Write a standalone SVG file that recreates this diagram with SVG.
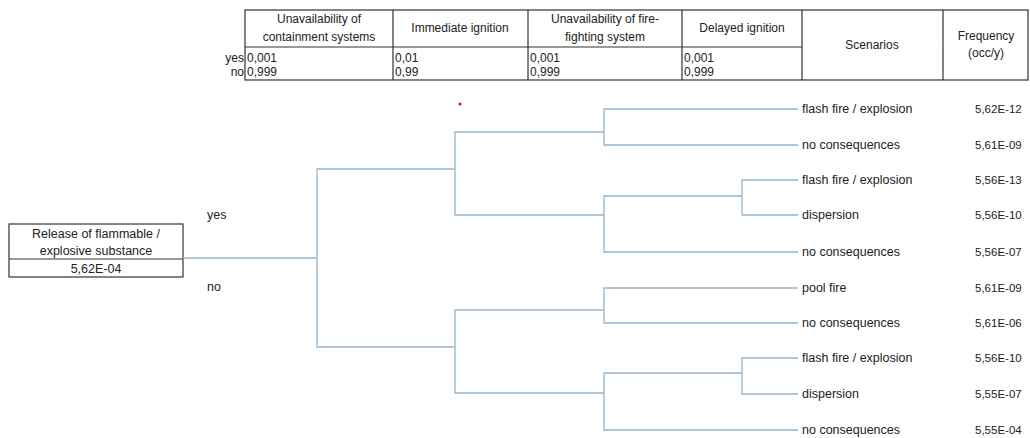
<svg xmlns="http://www.w3.org/2000/svg" width="1030" height="438" viewBox="0 0 1030 438">
<style>
text{font-family:"Liberation Sans",Arial,sans-serif;fill:#222;font-size:12px}
.c{text-anchor:middle}
.r{text-anchor:end}
.lab{font-size:12.5px}
.f{font-size:11.5px}
.grid{stroke:#333;stroke-width:1.2;fill:none}
.br{stroke:#92b4d2;stroke-width:1.3;fill:none}
</style>
<rect width="1030" height="438" fill="#fff"/>
<g id="table">
<rect class="grid" x="245" y="10" width="783" height="70"/>
<path class="grid" d="M245 47H802M393 10V80M528 10V80M682 10V80M802 10V80M943 10V80"/>
<text class="c" x="319" y="23">Unavailability of</text>
<text class="c" x="319" y="41">containment systems</text>
<text class="c" x="460" y="32">Immediate ignition</text>
<text class="c" x="605" y="23">Unavailability of fire-</text>
<text class="c" x="605" y="41">fighting system</text>
<text class="c" x="742" y="32">Delayed ignition</text>
<text class="c" x="872" y="49">Scenarios</text>
<text class="c" x="986" y="40">Frequency</text>
<text class="c" x="986" y="57">(occ/y)</text>
<text class="r" x="244" y="62">yes</text>
<text class="r" x="244" y="76">no</text>
<text x="247" y="62">0,001</text>
<text x="247" y="76">0,999</text>
<text x="395" y="62">0,01</text>
<text x="395" y="76">0,99</text>
<text x="530" y="62">0,001</text>
<text x="530" y="76">0,999</text>
<text x="684" y="62">0,001</text>
<text x="684" y="76">0,999</text>
</g>
<g id="initiating-event">
<rect class="grid" x="9" y="224" width="174" height="53"/>
<path class="grid" d="M9 259H183"/>
<text class="c lab" x="96" y="238">Release of flammable /</text>
<text class="c lab" x="96" y="255">explosive substance</text>
<text class="c lab" x="96" y="273">5,62E-04</text>
</g>
<g id="branch-labels">
<text class="lab" x="207" y="219">yes</text>
<text class="lab" x="207" y="291">no</text>
</g>
<g id="connectors">
<path class="br" d="M183 258H317"/>
<path class="br" d="M455 169H317V347H455"/>
<path class="br" d="M604 132H455V215H604"/>
<path class="br" d="M604 310H455V393H604"/>
<path class="br" d="M798 109H604V145H798"/>
<path class="br" d="M742 196H604V252H798"/>
<path class="br" d="M798 180H742V215H798"/>
<path class="br" d="M798 288H604V323H798"/>
<path class="br" d="M742 373H604V430H798"/>
<path class="br" d="M798 358H742V394H798"/>
</g>
<circle cx="460" cy="104" r="1.5" fill="#d01030"/>
<g id="outcome-1"><text class="lab" x="802" y="113">flash fire / explosion</text><text class="f" x="975" y="113">5,62E-12</text></g>
<g id="outcome-2"><text class="lab" x="802" y="149">no consequences</text><text class="f" x="975" y="149">5,61E-09</text></g>
<g id="outcome-3"><text class="lab" x="802" y="184">flash fire / explosion</text><text class="f" x="975" y="184">5,56E-13</text></g>
<g id="outcome-4"><text class="lab" x="802" y="219">dispersion</text><text class="f" x="975" y="219">5,56E-10</text></g>
<g id="outcome-5"><text class="lab" x="802" y="256">no consequences</text><text class="f" x="975" y="256">5,56E-07</text></g>
<g id="outcome-6"><text class="lab" x="802" y="292">pool fire</text><text class="f" x="975" y="292">5,61E-09</text></g>
<g id="outcome-7"><text class="lab" x="802" y="327">no consequences</text><text class="f" x="975" y="327">5,61E-06</text></g>
<g id="outcome-8"><text class="lab" x="802" y="362">flash fire / explosion</text><text class="f" x="975" y="362">5,56E-10</text></g>
<g id="outcome-9"><text class="lab" x="802" y="398">dispersion</text><text class="f" x="975" y="398">5,55E-07</text></g>
<g id="outcome-10"><text class="lab" x="802" y="434">no consequences</text><text class="f" x="975" y="434">5,55E-04</text></g>
</svg>
